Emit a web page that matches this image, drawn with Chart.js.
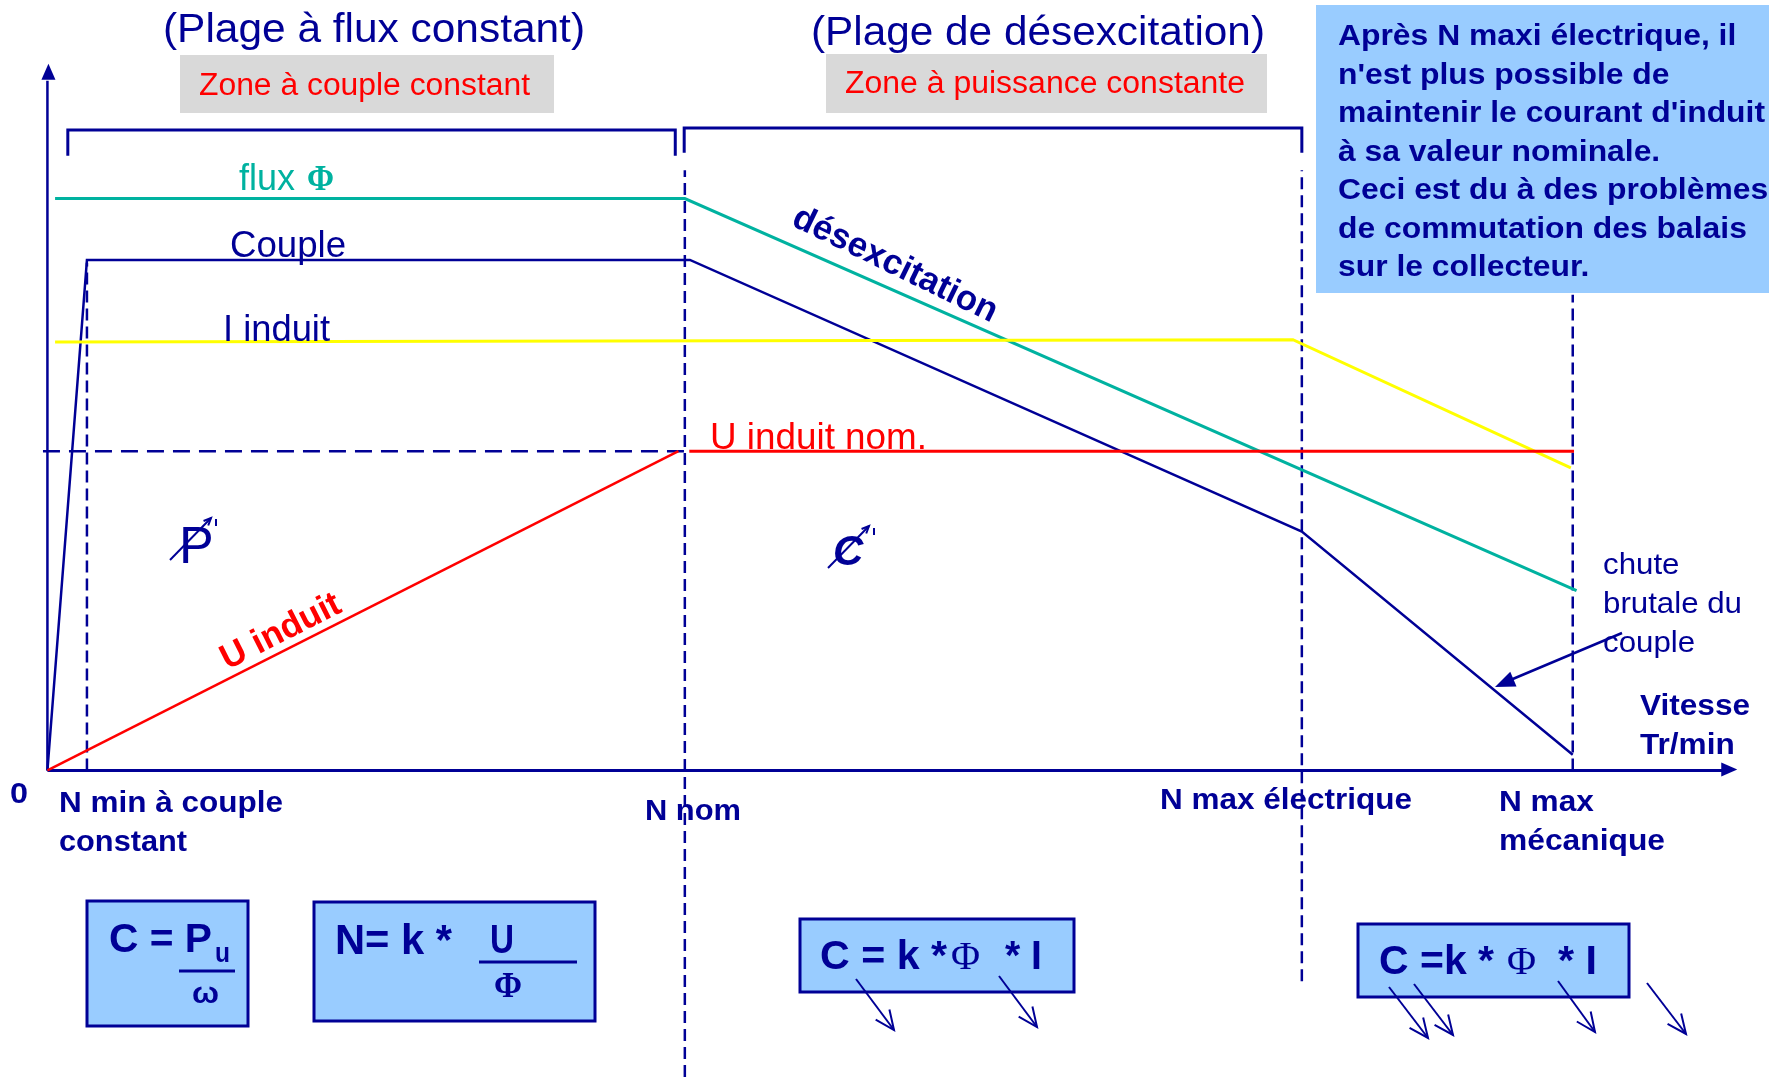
<!DOCTYPE html>
<html>
<head>
<meta charset="utf-8">
<script src="https://cdn.jsdelivr.net/npm/chart.js@4.4.1/dist/chart.umd.min.js"></script>
<style>
  html, body { margin: 0; padding: 0; background: #fff; }
  #wrap { width: 1769px; height: 1077px; position: relative; }
</style>
</head>
<body>
<div id="wrap"><canvas id="chart"></canvas></div>
<script>
// speed axis (arbitrary units, N nom = 1000) and value axis (U nom = 100)
const fluxN = [12, 1000, 2399];
const fluxV = [179.1, 179.1, 56.3];
const coupleN = [0, 62, 1008, 1968, 2393];
const coupleV = [0, 159.9, 159.9, 74.8, 4.9];
const courantN = [12, 1954, 2390];
const courantV = [134.2, 134.9, 94.8];
const uRiseN = [0, 990];
const uRiseV = [0, 100];
const uNomN = [1007, 2395];
const uNomV = [100, 100];

// vertical markers: N min, N nom, N max électrique, N max mécanique
const markerN = [62, 1000, 1968, 2393];
const markerTop = [159, 188, 188, 149];
const markerBottom = [0, -96, -66, 0];

// brackets above the two zones
const bracketStart = [32, 999];
const bracketEnd = [985, 1968];
const bracketTop = [200.6, 201.2];
const bracketFoot = [192.5, 193.5];

const xAxisEnd = 2648;
const yAxisEnd = 216;

const NAVY = '#000096';
const TEAL = '#00B2A0';
const RED = '#FF0000';
const YELLOW = '#FFFF00';
const BOX = '#99CCFF';
const GREY = '#D9D9D9';
const SANS = '"Liberation Sans", Arial, sans-serif';
const SERIF = '"Liberation Serif", "Times New Roman", serif';

const pts = (xs, ys) => xs.map((x, i) => ({ x: x, y: ys[i] }));

function line(data, color, width, dash, order) {
    return {
        data: data,
        borderColor: color,
        borderWidth: width,
        borderDash: dash || [],
        pointRadius: 0,
        fill: false,
        tension: 0,
        clip: false,
        order: order
    };
}

const datasets = [];
datasets.push(line(pts([0, xAxisEnd - 10], [0, 0]), NAVY, 3, null, 1));
datasets.push(line(pts([0, 0], [0, yAxisEnd]), NAVY, 2.5, null, 1));
markerN.forEach((n, i) => {
    datasets.push(line(pts([n, n], [markerBottom[i], markerTop[i]]), NAVY, 2.5, [12, 6], 3));
});
datasets.push(line(pts([-7, 1000], [100, 100]), NAVY, 2.5, [17, 9], 3));
bracketStart.forEach((s, i) => {
    datasets.push(line(pts([s, s, bracketEnd[i], bracketEnd[i]],
        [bracketFoot[i], bracketTop[i], bracketTop[i], bracketFoot[i]]), NAVY, 3, null, 2));
});
datasets.push(line(pts(uRiseN, uRiseV), RED, 2.5, null, 0));
datasets.push(line(pts(uNomN, uNomV), RED, 3, null, 0));
datasets.push(line(pts(courantN, courantV), YELLOW, 3, null, 0));
datasets.push(line(pts(fluxN, fluxV), TEAL, 3, null, 0));
datasets.push(line(pts(coupleN, coupleV), NAVY, 2.5, null, 0));

function text(ctx, str, x, y, o) {
    ctx.save();
    ctx.font = (o.style || '') + ' ' + (o.weight || 'normal') + ' ' + o.size + 'px ' + (o.family || SANS);
    ctx.fillStyle = o.color || NAVY;
    ctx.textAlign = o.align || 'left';
    ctx.textBaseline = o.baseline || 'alphabetic';
    ctx.translate(x, y);
    if (o.rotate) ctx.rotate(o.rotate * Math.PI / 180);
    let sx = o.sx || 1;
    if (o.width) sx = o.width / ctx.measureText(str).width;
    ctx.scale(sx, 1);
    ctx.fillText(str, 0, 0);
    ctx.restore();
}

function fitScale(ctx, str, o, width) {
    ctx.save();
    ctx.font = (o.weight || 'normal') + ' ' + o.size + 'px ' + SANS;
    const w = ctx.measureText(str).width;
    ctx.restore();
    return width / w;
}

function stroke(ctx, coords, color, width) {
    ctx.save();
    ctx.strokeStyle = color;
    ctx.lineWidth = width;
    ctx.beginPath();
    ctx.moveTo(coords[0], coords[1]);
    for (let i = 2; i < coords.length; i += 2) ctx.lineTo(coords[i], coords[i + 1]);
    ctx.stroke();
    ctx.restore();
}

function box(ctx, x, y, w, h, fill, border) {
    ctx.save();
    ctx.fillStyle = fill;
    ctx.fillRect(x, y, w, h);
    if (border) {
        ctx.strokeStyle = border;
        ctx.lineWidth = 3;
        ctx.strokeRect(x, y, w, h);
    }
    ctx.restore();
}

function openArrow(ctx, x1, y1, x2, y2, len) {
    const a = Math.atan2(y2 - y1, x2 - x1);
    stroke(ctx, [x1, y1, x2, y2], NAVY, 2);
    stroke(ctx, [x2 - len * Math.cos(a - 0.42), y2 - len * Math.sin(a - 0.42), x2, y2,
        x2 - len * Math.cos(a + 0.42), y2 - len * Math.sin(a + 0.42)], NAVY, 2);
}

function filledHead(ctx, x, y, angle, len, half) {
    ctx.save();
    ctx.fillStyle = NAVY;
    ctx.translate(x, y);
    ctx.rotate(angle);
    ctx.beginPath();
    ctx.moveTo(0, 0);
    ctx.lineTo(-len, -half);
    ctx.lineTo(-len, half);
    ctx.closePath();
    ctx.fill();
    ctx.restore();
}

const notes = {
    id: 'notes',
    afterDatasetsDraw(chart) {
        const ctx = chart.ctx;
        const px = v => chart.scales.x.getPixelForValue(v);
        const py = v => chart.scales.y.getPixelForValue(v);

        // axis arrow heads
        filledHead(ctx, px(xAxisEnd) + 2, py(0) - 1, 0, 16, 7);
        filledHead(ctx, px(0) + 1, py(yAxisEnd) - 17, -Math.PI / 2, 16, 7);

        // zone titles
        text(ctx, '(Plage à flux constant)', 163, 42, { size: 40, width: 422 });
        text(ctx, '(Plage de désexcitation)', 811, 45, { size: 40, width: 454 });
        box(ctx, 180, 55, 374, 58, GREY);
        box(ctx, 826, 54, 441, 59, GREY);
        text(ctx, 'Zone à couple constant', 199, 95, { size: 31, width: 331, color: RED });
        text(ctx, 'Zone à puissance constante', 845, 93, { size: 31, width: 400, color: RED });

        // note top right
        box(ctx, 1316, 5, 460, 288, BOX);
        const noteLines = ['Après N maxi électrique, il', "n'est plus possible de",
            "maintenir le courant d'induit", 'à sa valeur nominale.',
            'Ceci est du à des problèmes', 'de commutation des balais', 'sur le collecteur.'];
        const noteSx = fitScale(ctx, noteLines[2], { size: 29, weight: 'bold' }, 427);
        noteLines.forEach((s, i) => text(ctx, s, 1338, 45 + i * 38.5, { size: 29, weight: 'bold', sx: noteSx }));

        // curve names
        text(ctx, 'flux', 239, 190, { size: 36, width: 56, color: TEAL });
        text(ctx, 'Φ', 307, 190, { size: 36, width: 27, color: TEAL, weight: 'bold', family: SERIF });
        text(ctx, 'Couple', 230, 257, { size: 37, width: 116 });
        text(ctx, 'I induit', 223, 341, { size: 37, width: 107 });
        text(ctx, 'U induit nom.', 710, 449, { size: 36, width: 217, color: RED });
        text(ctx, 'désexcitation', 895, 265, { size: 35, weight: 'bold', align: 'center', baseline: 'middle', rotate: 26 });
        text(ctx, 'U induit', 281, 632, { size: 35, weight: 'bold', color: RED, align: 'center', baseline: 'middle', rotate: -26.9 });

        // P and C with "decreasing" marks
        text(ctx, 'P', 179, 563, { size: 52 });
        openArrow(ctx, 170, 560, 211, 518, 8);
        stroke(ctx, [216, 519, 216, 526], NAVY, 2);
        text(ctx, 'C', 833, 565, { size: 42, weight: 'bold', style: 'italic' });
        openArrow(ctx, 828, 568, 869, 526, 8);
        stroke(ctx, [874, 528, 874, 535], NAVY, 2);

        // chute brutale du couple
        const chuteSx = fitScale(ctx, 'brutale du', { size: 30 }, 139);
        ['chute', 'brutale du', 'couple'].forEach((s, i) =>
            text(ctx, s, 1603, [574, 612.7, 651.7][i], { size: 30, sx: chuteSx }));
        stroke(ctx, [1622, 633, 1508, 681], NAVY, 2.5);
        filledHead(ctx, 1495, 687, Math.atan2(687 - 633, 1495 - 1622), 20, 8);

        // axis labels
        const vSx = fitScale(ctx, 'Vitesse', { size: 30, weight: 'bold' }, 110);
        text(ctx, 'Vitesse', 1640, 715, { size: 30, weight: 'bold', sx: vSx });
        text(ctx, 'Tr/min', 1640, 754, { size: 30, weight: 'bold', sx: vSx });
        text(ctx, '0', 10, 803, { size: 30, weight: 'bold', width: 18 });
        text(ctx, 'N min à couple', 59, 812, { size: 29, weight: 'bold', width: 224 });
        text(ctx, 'constant', 59, 851, { size: 29, weight: 'bold', sx: 1.06 });
        text(ctx, 'N nom', 645, 820, { size: 29, weight: 'bold', width: 96 });
        text(ctx, 'N max électrique', 1160, 809, { size: 29, weight: 'bold', width: 252 });
        text(ctx, 'N max', 1499, 811, { size: 29, weight: 'bold', sx: 1.09 });
        text(ctx, 'mécanique', 1499, 850, { size: 29, weight: 'bold', width: 166 });

        // formula boxes
        box(ctx, 87, 901, 161, 125, BOX, NAVY);
        text(ctx, 'C = P', 109, 952, { size: 40, weight: 'bold', width: 103 });
        text(ctx, 'u', 215, 962, { size: 28, weight: 'bold', width: 15 });
        stroke(ctx, [179, 971, 235, 971], NAVY, 3);
        text(ctx, 'ω', 192, 1003, { size: 30, weight: 'bold', width: 27 });

        box(ctx, 314, 902, 281, 119, BOX, NAVY);
        text(ctx, 'N= k *', 335, 954, { size: 42, weight: 'bold', width: 117 });
        text(ctx, 'U', 490, 953, { size: 40, weight: 'bold', width: 24 });
        stroke(ctx, [479, 962, 577, 962], NAVY, 3);
        text(ctx, 'Φ', 494, 997, { size: 36, weight: 'bold', width: 28, family: SERIF });

        box(ctx, 800, 919, 274, 73, BOX, NAVY);
        text(ctx, 'C = k *', 820, 969, { size: 40, weight: 'bold', width: 127 });
        text(ctx, 'Φ', 951, 969, { size: 40, width: 29, family: SERIF });
        text(ctx, '* I', 1005, 969, { size: 40, weight: 'bold', width: 37 });
        openArrow(ctx, 856, 979, 894, 1030, 21);
        openArrow(ctx, 999, 976, 1037, 1027, 21);

        box(ctx, 1358, 924, 271, 73, BOX, NAVY);
        text(ctx, 'C =k *', 1379, 974, { size: 40, weight: 'bold', width: 115 });
        text(ctx, 'Φ', 1507, 974, { size: 40, width: 29, family: SERIF });
        text(ctx, '* I', 1558, 974, { size: 40, weight: 'bold', width: 39 });
        openArrow(ctx, 1389, 987, 1428, 1038, 21);
        openArrow(ctx, 1414, 984, 1453, 1035, 21);
        openArrow(ctx, 1558, 981, 1595, 1032, 21);
        openArrow(ctx, 1647, 983, 1686, 1034, 21);
    }
};

new Chart(document.getElementById('chart'), {
    type: 'line',
    data: { datasets: datasets },
    options: {
        responsive: true,
        maintainAspectRatio: false,
        animation: false,
        layout: { padding: 0 },
        plugins: {
            legend: { display: false },
            tooltip: { enabled: false }
        },
        scales: {
            x: { type: 'linear', min: -74.4, max: 2700.9, display: false },
            y: { type: 'linear', min: -96, max: 241.3, display: false }
        }
    },
    plugins: [notes]
});
</script>
</body>
</html>
